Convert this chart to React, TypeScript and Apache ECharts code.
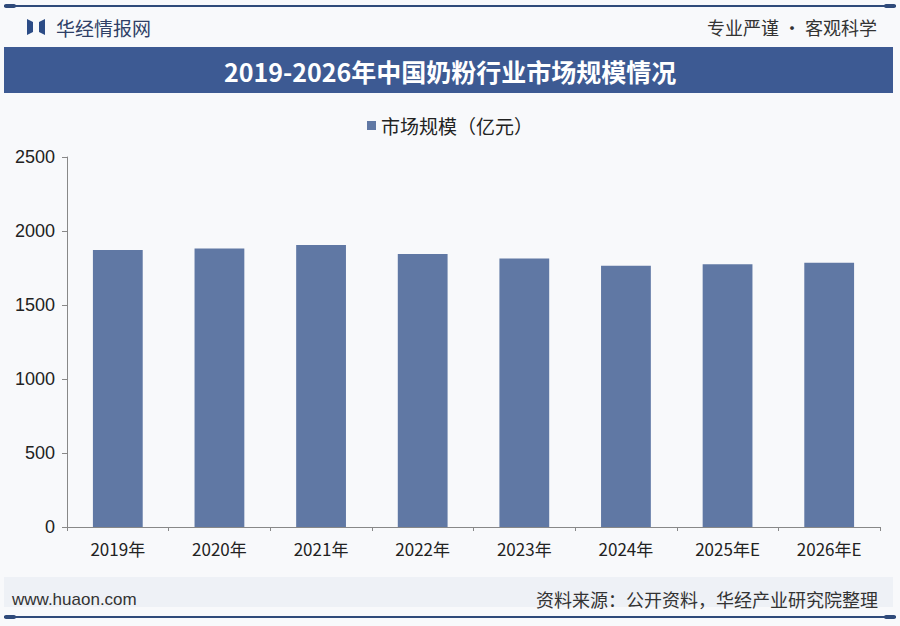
import React, { useEffect, useRef } from "react";
import * as echarts from "echarts";

const categories = ["2019年", "2020年", "2021年", "2022年", "2023年", "2024年", "2025年E", "2026年E"];
const marketSize = [1872, 1882, 1905, 1845, 1815, 1765, 1776, 1786];
const yTicks = [0, 500, 1000, 1500, 2000, 2500];

const titleText = "2019-2026年中国奶粉行业市场规模情况";
const seriesName = "市场规模（亿元）";
const brandText = "华经情报网";
const sloganText = "专业严谨 • 客观科学";
const siteText = "www.huaon.com";
const sourceText = "资料来源：公开资料，华经产业研究院整理";

const CJK = "'Noto Sans CJK SC', 'Noto Sans', sans-serif";

export default function App() {
  const ref = useRef<HTMLDivElement>(null);
  useEffect(() => {
    if (!ref.current) return;
    const chart = echarts.init(ref.current, undefined, { renderer: "svg" });
    chart.setOption({
      animation: false,
      backgroundColor: "#f8f9fb",
      textStyle: { fontFamily: CJK },
      legend: {
        top: 111,
        left: "center",
        itemWidth: 9,
        itemHeight: 9,
        icon: "rect",
        itemGap: 4,
        textStyle: { fontSize: 19, color: "#222", fontFamily: CJK },
        data: [seriesName],
      },
      grid: { left: 67, right: 20, top: 157, bottom: 99, containLabel: false },
      xAxis: {
        type: "category",
        data: categories,
        axisLine: { lineStyle: { color: "#888", width: 1 } },
        axisTick: { show: true, alignWithLabel: false, length: 4, lineStyle: { color: "#888" } },
        axisLabel: { fontSize: 17, color: "#222", margin: 13, fontFamily: CJK },
      },
      yAxis: {
        type: "value",
        min: yTicks[0],
        max: yTicks[yTicks.length - 1],
        interval: 500,
        axisLine: { show: true, lineStyle: { color: "#888", width: 1 } },
        axisTick: { show: true, length: 5, lineStyle: { color: "#888" } },
        splitLine: { show: false },
        axisLabel: {
          fontSize: 18,
          color: "#222",
          margin: 12,
          fontFamily: "'Liberation Sans', Arial, sans-serif",
          formatter: (v: number) => String(v),
        },
      },
      series: [
        {
          name: seriesName,
          type: "bar",
          data: marketSize,
          barWidth: "49%",
          itemStyle: { color: "#6078a4" },
        },
      ],
      graphic: [
        // top line
        { type: "rect", shape: { x: 4, y: 5, width: 892, height: 2 }, style: { fill: "#2f4a7a" } },
        { type: "rect", shape: { x: 4, y: 4, width: 12, height: 4, r: 2 }, style: { fill: "#2f4a7a" } },
        { type: "rect", shape: { x: 884, y: 4, width: 12, height: 4, r: 2 }, style: { fill: "#2f4a7a" } },
        // logo
        { type: "polygon", shape: { points: [[27, 19], [33, 22], [33, 32], [27, 35]] }, style: { fill: "#2c4c86" } },
        { type: "polygon", shape: { points: [[45, 19], [39, 22], [39, 32], [45, 35]] }, style: { fill: "#2c4c86" } },
        { type: "text", x: 56, y: 27, style: { text: brandText, fontSize: 19, fill: "#2f3f66", fontFamily: CJK, verticalAlign: "middle" } },
        { type: "text", x: 877, y: 27, style: { text: sloganText, fontSize: 18, fill: "#333", fontFamily: CJK, align: "right", verticalAlign: "middle" } },
        // title band
        { type: "rect", shape: { x: 4, y: 47, width: 889, height: 46 }, style: { fill: "#3d5a93" } },
        { type: "text", x: 450, y: 71, style: { text: titleText, fontSize: 25, fontWeight: "bold", fill: "#fff", fontFamily: "'Noto Sans CJK SC', sans-serif", align: "center", verticalAlign: "middle" } },
        // footer
        { type: "rect", shape: { x: 4, y: 577, width: 889, height: 30 }, style: { fill: "#eef1f6" } },
        { type: "text", x: 12, y: 599, style: { text: siteText, fontSize: 17, fill: "#333", fontFamily: "'Liberation Sans', Arial, sans-serif", verticalAlign: "middle" } },
        { type: "text", x: 878, y: 599, style: { text: sourceText, fontSize: 18, fill: "#333", fontFamily: CJK, align: "right", verticalAlign: "middle" } },
        { type: "rect", shape: { x: 4, y: 616, width: 892, height: 2 }, style: { fill: "#2f4a7a" } },
        { type: "rect", shape: { x: 4, y: 615, width: 12, height: 4, r: 2 }, style: { fill: "#2f4a7a" } },
        { type: "rect", shape: { x: 884, y: 615, width: 12, height: 4, r: 2 }, style: { fill: "#2f4a7a" } },
      ],
    });
    return () => chart.dispose();
  }, []);
  return (
    <div
      ref={ref}
      style={{ position: "fixed", left: 0, top: 0, width: 900, height: 626 }}
    />
  );
}
